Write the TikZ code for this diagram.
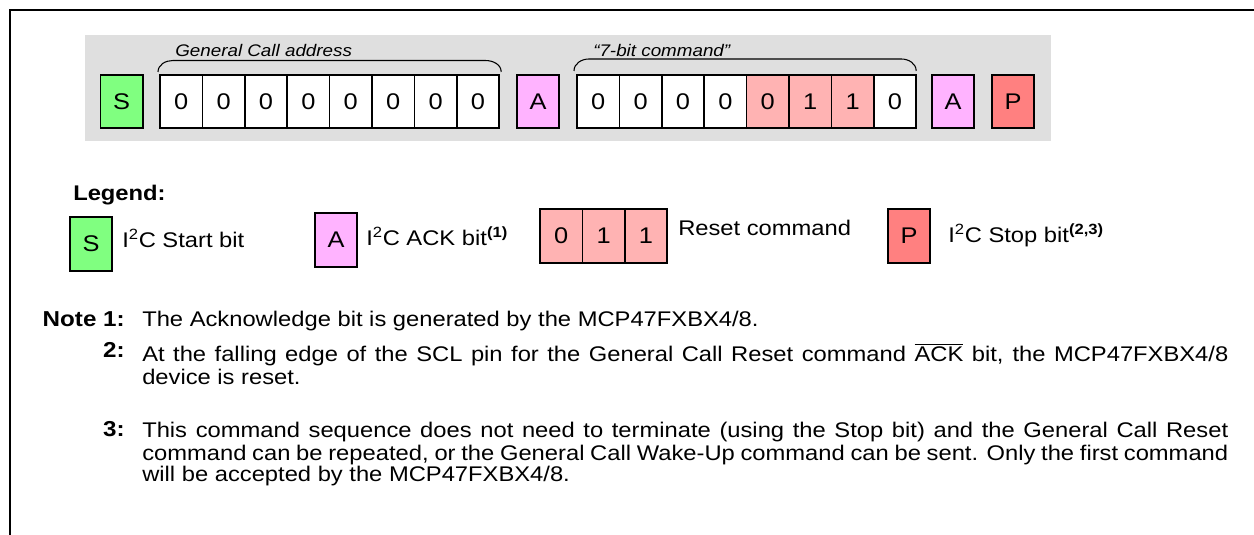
\documentclass[tikz,border=0pt]{standalone}
\usepackage{fontspec}
\setmainfont{Liberation Sans}[FakeStretch=1.12]
\usepackage{tikz}
\usetikzlibrary{positioning,calc}
\definecolor{startgreen}{RGB}{128,255,128}
\definecolor{ackpink}{RGB}{255,179,255}
\definecolor{resetpink}{RGB}{255,179,179}
\definecolor{stopred}{RGB}{255,128,128}
\definecolor{bandgray}{RGB}{223,223,223}
\setlength{\parindent}{0pt}
\hyphenpenalty=10000
\exhyphenpenalty=10000
\lineskiplimit=-50pt

\begin{document}
\begin{tikzpicture}[x=0.75pt, y=0.75pt,
    bit/.style={draw, line width=1.2pt, rectangle, outer sep=0pt, inner sep=0pt, fill=white, minimum width=31.8pt, minimum height=39.75pt, font=\fontsize{17}{19}\selectfont},
    keybit/.style={bit, minimum width=31.5pt, minimum height=40.5pt},
    brace/.style={line width=0.8pt},
    fieldlabel/.style={anchor=base west, inner sep=0pt, font=\fontsize{12.6}{14}\selectfont\itshape},
    keytext/.style={anchor=base west, inner sep=0pt, font=\fontsize{15.9}{17}\selectfont},
    notelabel/.style={anchor=base east, inner sep=0pt, font=\fontsize{16.2}{15.75}\selectfont\bfseries},
    notetext/.style={anchor=north west, inner sep=0pt, text width=814.5pt, align=justify, font=\fontsize{15.9}{15.75}\selectfont}]
    \useasboundingbox (0,0) rectangle (1254,535);
    % frame and band
    \draw [line width=1.5pt] (10,0) -- (10,525) -- (1260,525);
    \fill [bandgray] (85,394) rectangle (1051,500);

    % command sequence
    \node [bit, fill=startgreen] (s) at (121.5,433.5) {S};
    \node [bit, anchor=west] (g1) at (160,433.5) {0};
    \foreach \i [remember=\i as \last (initially 1)] in {2,...,8}
        \node [bit, right=0pt of g\last] (g\i) {0};
    \node [bit, fill=ackpink] (a1) at (538,433.5) {A};
    \node [bit, anchor=west] (c1) at (577,433.5) {0};
    \foreach \i/\v/\f [remember=\i as \last (initially 1)] in {2/0/white,3/0/white,4/0/white,5/0/resetpink,6/1/resetpink,7/1/resetpink,8/0/white}
        \node [bit, fill=\f, right=0pt of c\last] (c\i) {\v};
    \node [bit, fill=ackpink] (a2) at (953,433.5) {A};
    \node [bit, fill=stopred] (p) at (1013,433.5) {P};

    % field braces
    \draw [brace] ($(g1.north west)+(-2,3)$) to[out=90,in=180] ($(g1.north west)+(13,14.5)$) -- ($(g8.north east)+(-14,14.5)$) to[out=0,in=90] ($(g8.north east)+(2,3)$);
    \draw [brace] ($(c1.north west)+(-3,4)$) to[out=90,in=180] ($(c1.north west)+(12,16)$) -- ($(c8.north east)+(-15,16)$) to[out=0,in=90] ($(c8.north east)+(0,4)$);
    \node [fieldlabel] (gcall) at (175,478) {General Call address};
    \node [fieldlabel] (cmd) at (593,478) {``7-bit command''};

    % legend
    \node [anchor=base west, inner sep=0pt, font=\fontsize{15.9}{17}\selectfont\bfseries] (legend) at (73,334) {Legend:};
    \node [keybit, fill=startgreen] (ks) at (91,291) {S};
    \node [keytext] (kstext) at (122,287) {I\textsuperscript{2}C Start bit};
    \node [keybit, fill=ackpink] (ka) at (336,295) {A};
    \node [keytext] (katext) at (366,289) {I\textsuperscript{2}C ACK bit\textsuperscript{\bfseries(1)}};
    \node [keybit, fill=resetpink, minimum width=31.8pt, anchor=west] (kr1) at (540,299) {0};
    \node [keybit, fill=resetpink, minimum width=31.8pt, right=0pt of kr1] (kr2) {1};
    \node [keybit, fill=resetpink, minimum width=31.8pt, right=0pt of kr2] (kr3) {1};
    \node [keytext] (krtext) at (678,299) {Reset command};
    \node [keybit, fill=stopred] (kp) at (909,299) {P};
    \node [keytext] (kptext) at (948,292) {I\textsuperscript{2}C Stop bit\textsuperscript{\bfseries(2,3)}};

    % notes
    \node [notelabel] (n1label) at (125,208) {Note 1:};
    \node [anchor=base west, inner sep=0pt, font=\fontsize{15.9}{15.75}\selectfont] (n1) at (142,208) {The Acknowledge bit is generated by the MCP47FXBX4/8.};
    \node [notelabel] (n2label) at (125,177) {2:};
    \node [notetext] (n2) at (142,191.7) {\strut At the falling edge of the SCL pin for the General Call Reset command $\overline{\mbox{ACK}}$ bit, the MCP47FXBX4/8\linebreak device is reset.};
    \node [notelabel] (n3label) at (125,98) {3:};
    \node [notetext] (n3) at (142,112.7) {\strut This command sequence does not need to terminate (using the Stop bit) and the General Call Reset\linebreak command can be repeated, or the General Call Wake-Up command can be sent. Only the first command\linebreak will be accepted by the MCP47FXBX4/8.};
\end{tikzpicture}
\end{document}
